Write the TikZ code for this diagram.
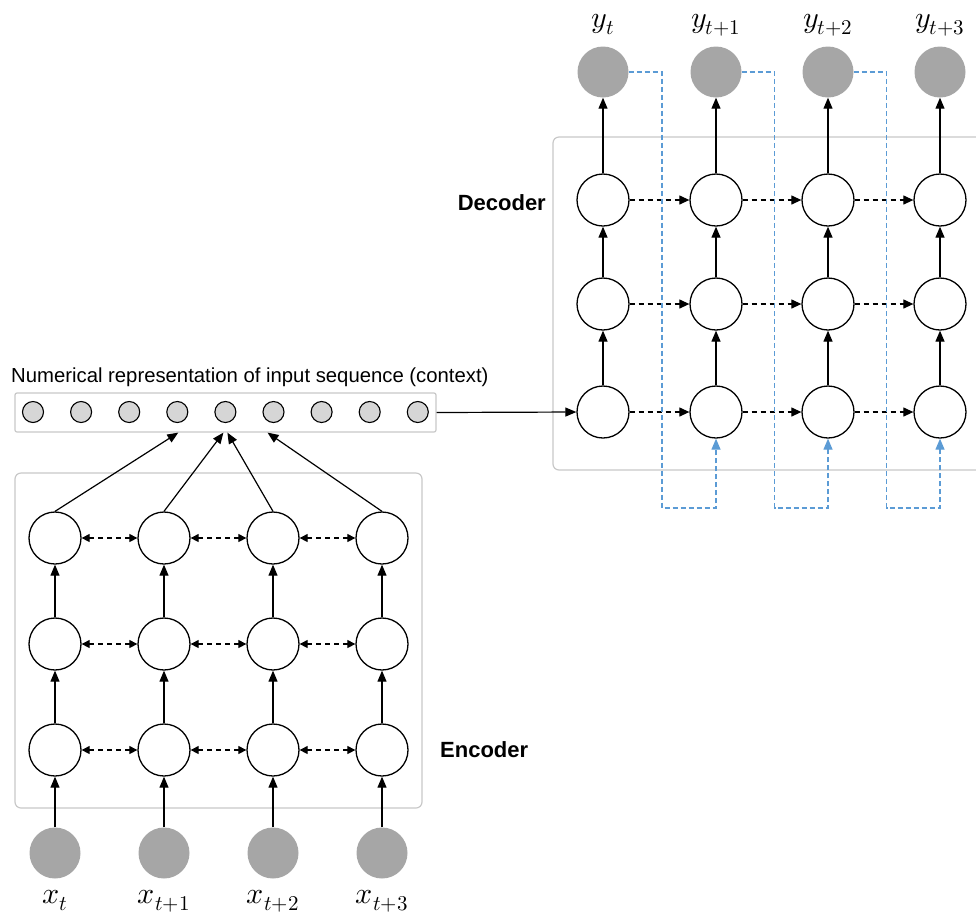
\documentclass[tikz,border=0pt]{standalone}
\usepackage{unicode-math}
\setmathfont{Latin Modern Math}
\newfontfamily\labelfont{Liberation Sans}
\usetikzlibrary{arrows.meta, positioning, calc}

\definecolor{boxgray}{HTML}{C8C8C8}
\definecolor{iogray}{HTML}{A6A6A6}
\definecolor{ctxgray}{HTML}{D6D6D6}
\definecolor{fbblue}{HTML}{5B9BD5}

\begin{document}
\begin{tikzpicture}[
    x=1pt, y=-1pt,
    neuron/.style={circle, draw, line width=1.3pt, fill=white, minimum size=52pt, inner sep=0pt},
    io/.style={circle, fill=iogray, minimum size=51pt, inner sep=0pt},
    ctxdot/.style={circle, draw, line width=1.1pt, fill=ctxgray, minimum size=21pt, inner sep=0pt},
    panel/.style={draw=boxgray, line width=1.2pt, rounded corners=6pt},
    arrow/.style={-{Triangle[length=11pt, width=9pt]}, line width=1.2pt},
    link/.style={{Triangle[length=8pt, width=8pt]}-{Triangle[length=8pt, width=8pt]}, line width=1.2pt, dash pattern=on 5pt off 4pt},
    recur/.style={-{Triangle[length=10pt, width=9pt]}, line width=1.2pt, dash pattern=on 5pt off 4pt},
    feedback/.style={draw=fbblue, line width=1.2pt, dash pattern=on 5pt off 3pt, -{Triangle[length=11pt, width=9pt]}},
    mathlbl/.style={font=\fontsize{30}{34}\selectfont, anchor=base, inner sep=0pt},
    title/.style={font=\labelfont\bfseries\fontsize{22}{26}\selectfont, inner sep=0pt}
]
\clip (0,0) rectangle (976,914);

% Boxes
\draw[panel] (15,473) rectangle (422,808);
\draw[panel] (553,137) rectangle (990,470);
\node[draw=boxgray, line width=1.2pt, rounded corners=2pt, minimum width=421pt, minimum height=39pt, inner sep=0pt] (ctx) at (225.5,412.5) {};

% Context vector
\node[font=\labelfont\fontsize{20.3}{24}\selectfont, anchor=west, inner sep=0pt] (ctx-text) at (11,377) {Numerical representation of input sequence (context)};
\foreach \i in {1,...,9}
    \node[ctxdot] (ctx-\i) at ({33+48.1*(\i-1)},412) {};

% Encoder
\foreach \c/\x/\lab in {1/55/t, 2/164/t+1, 3/273/t+2, 4/382/t+3} {
    \node[io] (in-\c) at (\x,853) {};
    \node[mathlbl] (xl-\c) at (\x,903) {$x_{\lab}$};
    \foreach \r/\y in {1/750, 2/644, 3/538}
        \node[neuron] (enc-\r-\c) at (\x,\y) {};
}
\node[title, anchor=west] (enc-title) at (440,750) {Encoder};

% Decoder
\foreach \c/\x/\lab in {1/603/t, 2/716/t+1, 3/828/t+2, 4/940/t+3} {
    \node[io] (out-\c) at (\x,72) {};
    \node[mathlbl] (yl-\c) at (\x,27) {$y_{\lab}$};
    \foreach \r/\y in {1/412, 2/304, 3/200}
        \node[neuron] (dec-\r-\c) at (\x,\y) {};
}
\node[title, anchor=east] (dec-title) at (546,203) {Decoder};

% Arrows inside the encoder
\foreach \c in {1,...,4} {
    \draw[arrow] (in-\c) -- (enc-1-\c);
    \draw[arrow] (enc-1-\c) -- (enc-2-\c);
    \draw[arrow] (enc-2-\c) -- (enc-3-\c);
}
\foreach \r in {1,2,3} {
    \draw[link] (enc-\r-1) -- (enc-\r-2);
    \draw[link] (enc-\r-2) -- (enc-\r-3);
    \draw[link] (enc-\r-3) -- (enc-\r-4);
}

% Encoder to context
\draw[arrow] (enc-3-1.north) -- ($(ctx-4 |- ctx.south)+(1,0)$);
\draw[arrow] (enc-3-2.north) -- ($(ctx-5 |- ctx.south)+(-2,0)$);
\draw[arrow] (enc-3-3.north) -- ($(ctx-5 |- ctx.south)+(2,0)$);
\draw[arrow] (enc-3-4.north) -- ($(ctx-6 |- ctx.south)+(-6,0)$);

% Context to decoder
\draw[arrow] (ctx.east) -- (dec-1-1.west);

% Arrows inside the decoder
\foreach \c in {1,...,4} {
    \draw[arrow] (dec-1-\c) -- (dec-2-\c);
    \draw[arrow] (dec-2-\c) -- (dec-3-\c);
    \draw[arrow] (dec-3-\c) -- (out-\c);
}
\foreach \r in {1,2,3} {
    \draw[recur] (dec-\r-1) -- (dec-\r-2);
    \draw[recur] (dec-\r-2) -- (dec-\r-3);
    \draw[recur] (dec-\r-3) -- (dec-\r-4);
}

% Feedback of outputs
\foreach \a/\b in {1/2, 2/3, 3/4} {
    \coordinate (fb-\a) at ($(out-\a)!0.5!(out-\b) + (2.5,436)$);
    \draw[feedback] (out-\a.east) -| (fb-\a) -| (dec-1-\b.south);
}

\end{tikzpicture}
\end{document}
